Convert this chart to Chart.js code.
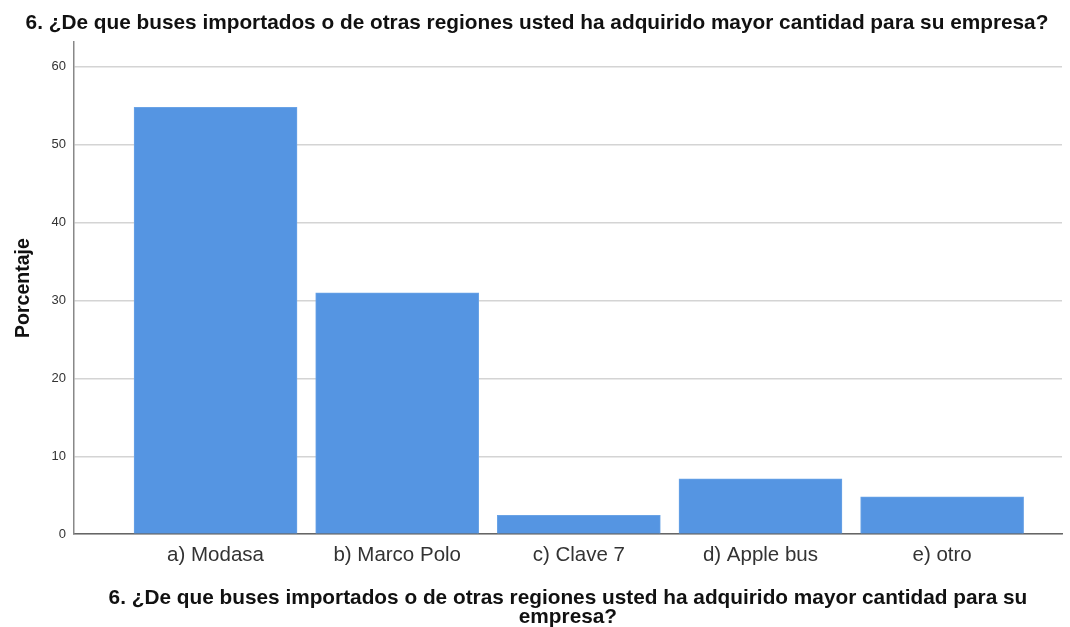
<!DOCTYPE html>
<html>
<head>
<meta charset="utf-8">
<script src="https://cdn.jsdelivr.net/npm/chart.js@4.4.1/dist/chart.umd.min.js"></script>
<style>
    html, body { margin: 0; padding: 0; background: #fff; }
    #caixa { width: 1070px; height: 627px; }
</style>
</head>
<body>
<div id="caixa"><canvas id="grafico"></canvas></div>
<script>
// dados (porcentaje)
var categorias = ['a) Modasa', 'b) Marco Polo', 'c) Clave 7', 'd) Apple bus', 'e) otro'];
var porcentajes = [54.8, 31.0, 2.4, 7.1, 4.8];
var ticksY = [0, 10, 20, 30, 40, 50, 60];

var titulo = '6. ¿De que buses importados o de otras regiones usted ha adquirido mayor cantidad para su empresa?';
var tituloX = ['6. ¿De que buses importados o de otras regiones usted ha adquirido mayor cantidad para su', 'empresa?'];

var pontos = [];
for (var i = 0; i < porcentajes.length; i++) {
    pontos.push({ x: i, y: porcentajes[i] });
}

var fonte = '"Liberation Sans", Arial, sans-serif';

const config = {
    type: 'bar',
    data: {
        datasets: [{
            label: 'Porcentaje',
            data: pontos,
            backgroundColor: '#5595e2',
            borderColor: '#6aa3e6',
            borderWidth: 1,
            barThickness: 163
        }]
    },
    options: {
        responsive: true,
        maintainAspectRatio: false,
        animation: false,
        layout: {
            padding: { left: 12, right: 8, top: 0, bottom: 0 }
        },
        scales: {
            x: {
                type: 'linear',
                offset: false,
                min: -0.78,
                max: 4.66,
                afterBuildTicks: function (eixo) {
                    eixo.ticks = categorias.map(function (c, i) { return { value: i }; });
                },
                ticks: {
                    color: '#333',
                    font: { family: fonte, size: 20.5 },
                    padding: 9,
                    maxRotation: 0,
                    autoSkip: false,
                    callback: function (v) { return categorias[v]; }
                },
                grid: { display: false, drawTicks: false },
                border: { display: true, color: '#666', width: 1.5 },
                title: {
                    display: true,
                    text: tituloX,
                    color: '#111',
                    font: { family: fonte, size: 20.8, weight: 'bold', lineHeight: 0.92 },
                    padding: { top: 12, bottom: 0 }
                }
            },
            y: {
                min: 0,
                max: 63.2,
                afterBuildTicks: function (eixo) {
                    eixo.ticks = ticksY.map(function (v) { return { value: v }; });
                },
                ticks: {
                    color: '#333',
                    font: { family: fonte, size: 13 },
                    padding: 8
                },
                grid: { color: '#d4d4d4', lineWidth: 1.5, drawTicks: false },
                border: { display: true, color: '#888', width: 1.5 },
                title: {
                    display: true,
                    text: 'Porcentaje',
                    color: '#111',
                    font: { family: fonte, size: 19.5, weight: 'bold' },
                    padding: { top: 0, bottom: 8 }
                }
            }
        },
        plugins: {
            legend: { display: false },
            tooltip: { enabled: false },
            title: {
                display: true,
                text: titulo,
                color: '#111',
                font: { family: fonte, size: 20.8, weight: 'bold' },
                padding: { top: 11, bottom: 6 }
            }
        }
    }
};

let grafico = new Chart(document.getElementById('grafico'), config);
</script>
</body>
</html>
